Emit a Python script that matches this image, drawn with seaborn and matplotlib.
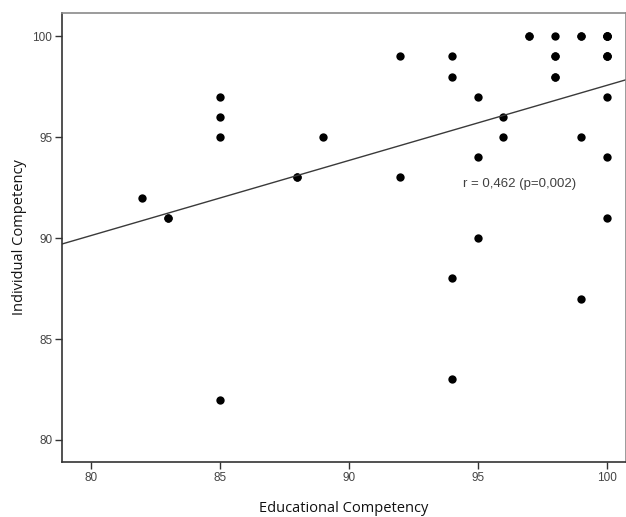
import numpy as np
import pandas as pd
import matplotlib
matplotlib.use("Agg")
import matplotlib.pyplot as plt
import seaborn as sns

sns.set_style("white")

# puntos (incluye repetidos)
educational = [82, 83, 83, 85, 85, 85, 85, 88, 88, 89, 92, 92,
               94, 94, 94, 94, 95, 95, 95, 96, 96, 97, 97,
               98, 98, 98, 98, 98, 99, 99, 99, 99,
               100, 100, 100, 100, 100, 100, 100, 100, 100, 100]
individual = [92, 91, 91, 97, 96, 95, 82, 93, 93, 95, 99, 93,
              99, 98, 88, 83, 97, 94, 90, 96, 95, 100, 100,
              100, 99, 99, 98, 98, 100, 100, 95, 87,
              100, 100, 100, 100, 99, 99, 99, 97, 94, 91]

x_ticks = [80, 85, 90, 95, 100]
y_ticks = [80, 85, 90, 95, 100]
anotacion = "r = 0,462 (p=0,002)"

df = pd.DataFrame({"Educational Competency": educational,
                   "Individual Competency": individual})

fig = plt.figure(figsize=(6.26, 5.17), dpi=100)
ax = fig.add_axes([0.099, 0.106, 0.901, 0.869])
ax.set_xlim(78.88, 100.75)
ax.set_ylim(78.9, 101.15)

sns.regplot(data=df, x="Educational Competency", y="Individual Competency",
            ax=ax, ci=None, truncate=False,
            scatter_kws={"s": 36, "color": "black", "linewidths": 0, "alpha": 1},
            line_kws={"color": "#3a3a3a", "linewidth": 1.0})

ax.set_xlim(78.88, 100.75)
ax.set_ylim(78.9, 101.15)
ax.set_xticks(x_ticks)
ax.set_yticks(y_ticks)

ax.text(94.42, 92.67, anotacion, ha="left", va="center", fontsize=9.5,
        color="#404040", family="Liberation Sans")

for lab in ax.get_xticklabels() + ax.get_yticklabels():
    lab.set_family("Liberation Sans")
    lab.set_fontsize(8.5)
    lab.set_color("#444444")
ax.tick_params(axis="both", direction="out", length=5, width=1,
               color="#333333", bottom=True, left=True, pad=2)

ax.set_xlabel("Educational Competency", family="Open Sans", fontsize=10.5,
              color="#111111")
ax.set_ylabel("Individual Competency", family="Open Sans", fontsize=10.5,
              color="#111111")
# posiciones de las etiquetas
ax.xaxis.set_label_coords(0.5, -0.104)
ax.yaxis.set_label_coords(-0.075, 0.5)
ax.xaxis.label.set_va("center")
ax.yaxis.label.set_va("center")

ax.spines["left"].set_color("#333333")
ax.spines["bottom"].set_color("#333333")
ax.spines["top"].set_color("#8a8a8a")
ax.spines["right"].set_color("#8a8a8a")
for s in ax.spines.values():
    s.set_linewidth(1.2)

fig.savefig("out.png", dpi=100)
